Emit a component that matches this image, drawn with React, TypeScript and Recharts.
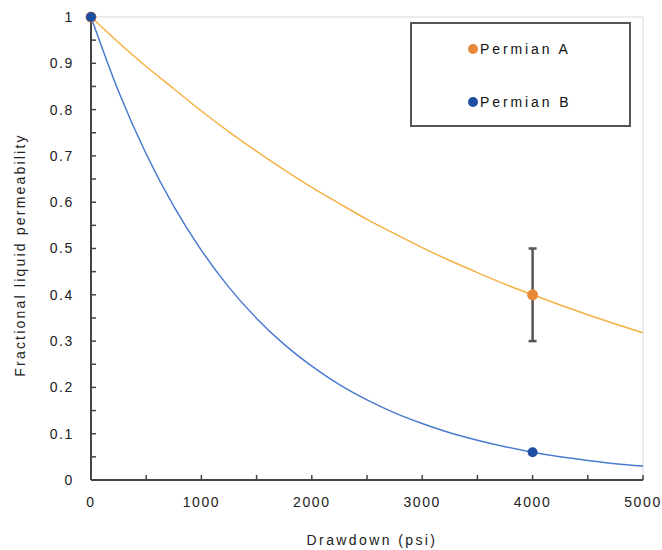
import { ComposedChart, Line, Scatter, XAxis, YAxis, ErrorBar, ReferenceLine, Label } from "recharts";

// curve readings (drawdown psi -> fractional permeability)
const drawdown = [0, 250, 500, 750, 1000, 1250, 1500, 1750, 2000, 2250, 2500, 2750, 3000, 3250, 3500, 3750, 4000, 4250, 4500, 4750, 5000];
const permianA = [1, 0.945, 0.893, 0.845, 0.797, 0.752, 0.71, 0.67, 0.632, 0.597, 0.563, 0.532, 0.502, 0.474, 0.448, 0.423, 0.4, 0.378, 0.357, 0.337, 0.318];
const permianB = [1, 0.839, 0.704, 0.591, 0.496, 0.416, 0.349, 0.293, 0.246, 0.206, 0.173, 0.145, 0.122, 0.102, 0.086, 0.072, 0.06, 0.05, 0.042, 0.035, 0.03];

// measured points
const pointsA = [{ x: 0, y: 1, err: 0 }, { x: 4000, y: 0.4, err: 0.1 }];
const pointsB = [{ x: 0, y: 1 }, { x: 4000, y: 0.06 }];

const xTicks = [0, 500, 1000, 1500, 2000, 2500, 3000, 3500, 4000, 4500, 5000];
const xTickLabels = ["0", "", "1000", "", "2000", "", "3000", "", "4000", "", "5000"];
const yTicks = [0, 0.05, 0.1, 0.15, 0.2, 0.25, 0.3, 0.35, 0.4, 0.45, 0.5, 0.55, 0.6, 0.65, 0.7, 0.75, 0.8, 0.85, 0.9, 0.95, 1];
const yTickLabels = ["0", "", "0.1", "", "0.2", "", "0.3", "", "0.4", "", "0.5", "", "0.6", "", "0.7", "", "0.8", "", "0.9", "", "1"];

const curveA = drawdown.map((x, i) => ({ x, y: permianA[i] }));
const curveB = drawdown.map((x, i) => ({ x, y: permianB[i] }));

const FONT = "'Liberation Sans', Arial, sans-serif";
const tickStyle = { fill: "#222", fontSize: 14, fontFamily: FONT, letterSpacing: 1.6 };

function LegendBox() {
  return (
    <div
      style={{
        position: "absolute",
        left: 410,
        top: 22,
        width: 221,
        height: 105,
        boxSizing: "border-box",
        border: "2px solid #555",
        background: "#fff",
        fontFamily: FONT,
        fontSize: 14,
        color: "#111",
        letterSpacing: 2.9,
      }}
    >
      {[
        { name: "Permian A", color: "#E8893A", top: 17 },
        { name: "Permian B", color: "#1F4FA3", top: 70 },
      ].map((it) => (
        <div key={it.name} style={{ position: "absolute", left: 56, top: it.top, display: "flex", alignItems: "center" }}>
          <span style={{ width: 10, height: 10, borderRadius: "50%", background: it.color, display: "inline-block", marginRight: 2 }} />
          <span>{it.name}</span>
        </div>
      ))}
    </div>
  );
}

const dot = (color: string, r: number) => (p: any) => <circle cx={p.cx} cy={p.cy} r={r} fill={color} />;

export default function App() {
  return (
    <div style={{ position: "absolute", left: 0, top: 0, width: 662, height: 550, background: "#fff", fontFamily: FONT }}>
      <ComposedChart width={662} height={550} margin={{ top: 17, right: 19, left: 0, bottom: 0 }}>
        <XAxis
          type="number"
          dataKey="x"
          domain={[0, 5000]}
          ticks={xTicks}
          interval={0}
          height={70}
          tickSize={-5}
          tickMargin={22}
          tick={tickStyle}
          tickFormatter={(v: number) => xTickLabels[xTicks.indexOf(v)] ?? ""}
          axisLine={{ stroke: "#444", strokeWidth: 2 }}
          tickLine={{ stroke: "#444", strokeWidth: 1.5 }}
        >
          <Label
            content={() => (
              <text x={372} y={545} textAnchor="middle" fontSize={14} fontFamily={FONT} fill="#222" letterSpacing={2.4}>
                Drawdown (psi)
              </text>
            )}
          />
        </XAxis>
        <YAxis
          type="number"
          domain={[0, 1]}
          ticks={yTicks}
          interval={0}
          width={91}
          tickSize={-5}
          tickMargin={22}
          tick={tickStyle}
          tickFormatter={(v: number) => yTickLabels[yTicks.indexOf(v)] ?? ""}
          axisLine={{ stroke: "#444", strokeWidth: 2 }}
          tickLine={{ stroke: "#444", strokeWidth: 1.5 }}
        >
          <Label
            content={() => (
              <text
                x={25}
                y={255}
                textAnchor="middle"
                fontSize={14}
                fontFamily={FONT}
                fill="#222"
                letterSpacing={2.2}
                transform="rotate(-90 25 255)"
              >
                Fractional liquid permeability
              </text>
            )}
          />
        </YAxis>
        <ReferenceLine y={1} stroke="#d9d9d9" strokeWidth={1} />
        <ReferenceLine x={5000} stroke="#d9d9d9" strokeWidth={1} />
        <Line data={curveA} dataKey="y" type="monotone" stroke="#F4B143" strokeWidth={1.5} dot={false} isAnimationActive={false} />
        <Line data={curveB} dataKey="y" type="monotone" stroke="#4A7BD0" strokeWidth={1.5} dot={false} isAnimationActive={false} />
        <Scatter data={pointsA} dataKey="y" shape={dot("#E8893A", 5.5)} isAnimationActive={false}>
          <ErrorBar dataKey="err" direction="y" width={4} stroke="#555" strokeWidth={2.5} />
        </Scatter>
        <Scatter data={pointsB} dataKey="y" shape={dot("#1F4FA3", 5)} isAnimationActive={false} />
      </ComposedChart>
      <LegendBox />
    </div>
  );
}
